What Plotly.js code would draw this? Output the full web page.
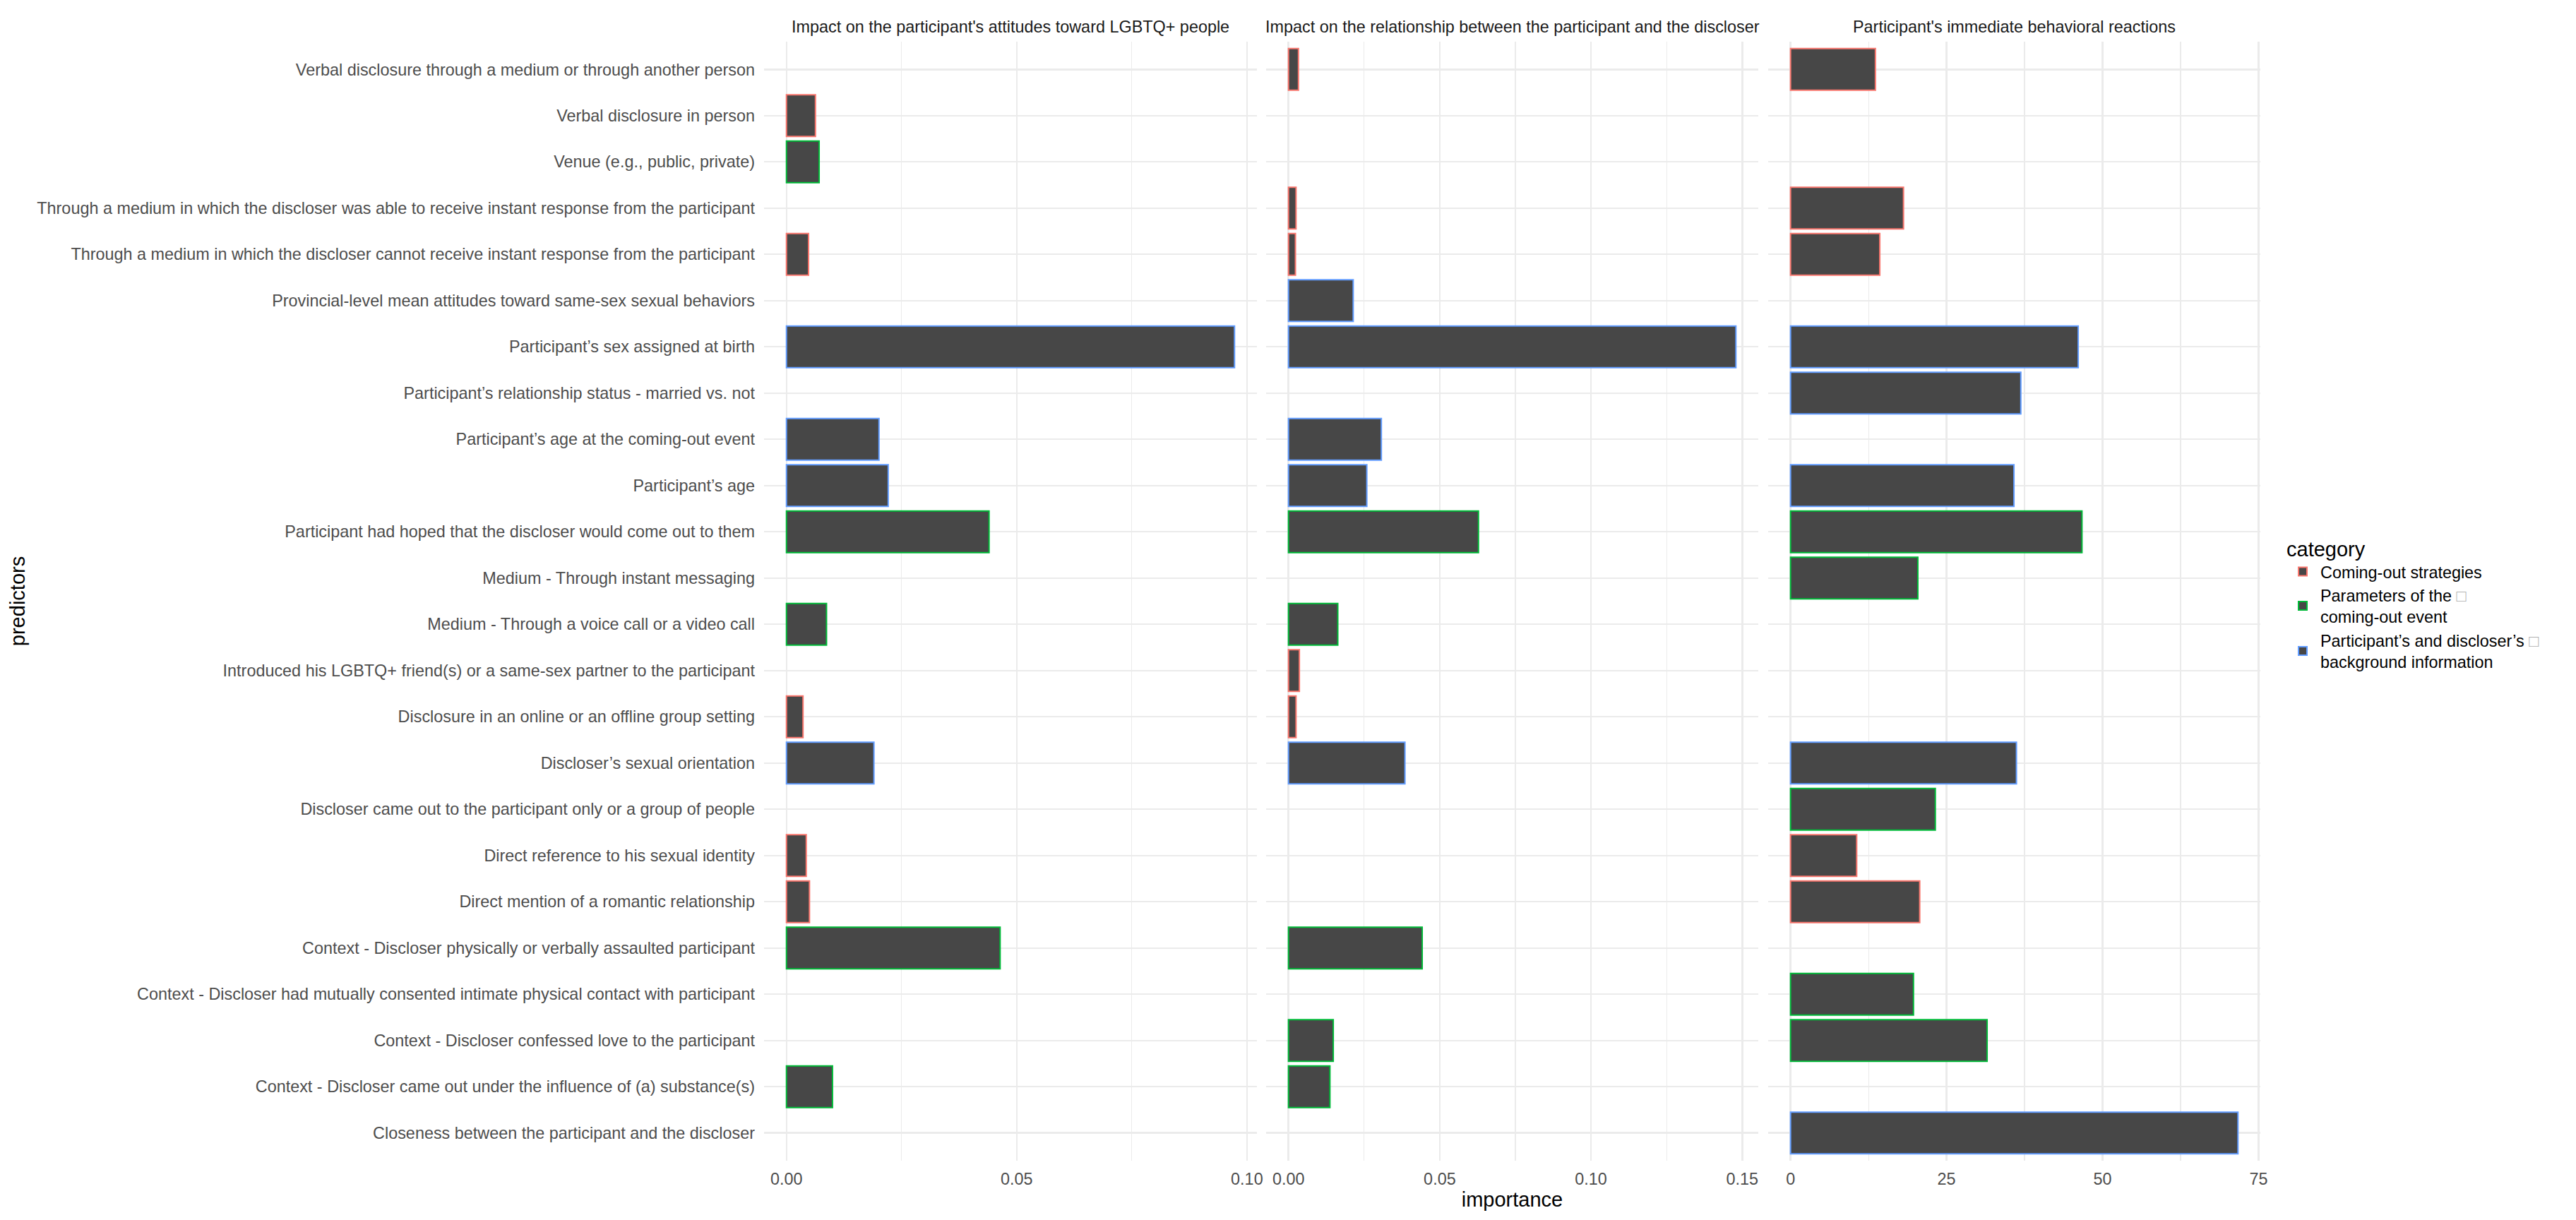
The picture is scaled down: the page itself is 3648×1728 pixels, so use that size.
<!DOCTYPE html>
<html>
<head>
<meta charset="utf-8">
<script src="https://cdn.plot.ly/plotly-3.0.1.min.js"></script>
<style>html,body{margin:0;padding:0;background:#fff;}</style>
</head>
<body>
<div id="chart" style="width:3648px;height:1728px;"></div>
<script>
// ---- data (top to bottom) ----
const predictors = [
  "Verbal disclosure through a medium or through another person",
  "Verbal disclosure in person",
  "Venue (e.g., public, private)",
  "Through a medium in which the discloser was able to receive instant response from the participant",
  "Through a medium in which the discloser cannot receive instant response from the participant",
  "Provincial-level mean attitudes toward same-sex sexual behaviors",
  "Participant’s sex assigned at birth",
  "Participant’s relationship status - married vs. not",
  "Participant’s age at the coming-out event",
  "Participant’s age",
  "Participant had hoped that the discloser would come out to them",
  "Medium - Through instant messaging",
  "Medium - Through a voice call or a video call",
  "Introduced his LGBTQ+ friend(s) or a same-sex partner to the participant",
  "Disclosure in an online or an offline group setting",
  "Discloser’s sexual orientation",
  "Discloser came out to the participant only or a group of people",
  "Direct reference to his sexual identity",
  "Direct mention of a romantic relationship",
  "Context - Discloser physically or verbally assaulted participant",
  "Context - Discloser had mutually consented intimate physical contact with participant",
  "Context - Discloser confessed love to the participant",
  "Context - Discloser came out under the influence of (a) substance(s)",
  "Closeness between the participant and the discloser"
];
// 0 = Coming-out strategies, 1 = Parameters of the coming-out event, 2 = background information
const predictorCategory = [0,0,1,0,0,2,2,2,2,2,1,1,1,0,0,2,1,0,0,1,1,1,1,2];

const attitudesImportance = [null,0.0063,0.0071,null,0.0048,null,0.0973,null,0.0201,0.0221,0.0440,null,0.0087,null,0.0036,0.0190,null,0.0043,0.0050,0.0464,null,null,0.0100,null];
const relationshipImportance = [0.0033,null,null,0.0025,0.0023,0.0214,0.1479,null,0.0307,0.0259,0.0628,null,0.0163,0.0036,0.0025,0.0385,null,null,null,0.0442,null,0.0148,0.0137,null];
const behaviorImportance = [13.6,null,null,18.1,14.3,null,46.1,36.9,null,35.8,46.7,20.4,null,null,null,36.2,23.2,10.6,20.7,null,19.7,31.5,null,71.7];

const panelTitles = [
  "Impact on the participant's attitudes toward LGBTQ+ people",
  "Impact on the relationship between the participant and the discloser",
  "Participant's immediate behavioral reactions"
];
const categoryNames = [
  "Coming-out strategies",
  "Parameters of the <span style=\"color:#b0b0b0\">□</span><br>coming-out event",
  "Participant’s and discloser’s <span style=\"color:#b0b0b0\">□</span><br>background information"
];
const tickFormats = [".2f", ".2f", "d"];
const majorSteps = [0.05, 0.05, 25];

// ---- styles ----
const categoryColors = ["#F8766D", "#00BA38", "#619CFF"];
const barFill = "#474747";
const gridColor = "#EBEBEB";
const fontFamily = '"Liberation Sans", Arial, Helvetica, sans-serif';
const smallFont = 23.4, bigFont = 29;
const W = 3648, H = 1728;
const xDomains = [[1082/W, 1780/W], [1793/W, 2490/W], [2504/W, 3201/W]];
const yDomain = [(H-1644)/H, (H-59)/H];

const panels = [attitudesImportance, relationshipImportance, behaviorImportance];
const axisIds = ["x", "x2", "x3"];
const axisKeys = ["xaxis", "xaxis2", "xaxis3"];

const traces = [];
panels.forEach((vals, p) => {
  categoryNames.forEach((name, c) => {
    const xs = [], ys = [];
    vals.forEach((v, i) => {
      if (v !== null && predictorCategory[i] === c) { xs.push(v); ys.push(predictors[i]); }
    });
    traces.push({
      type: "bar", orientation: "h",
      x: xs, y: ys, xaxis: axisIds[p], yaxis: "y",
      width: 0.9,
      name: name, legendgroup: "cat" + c, showlegend: p === 0,
      marker: { color: barFill, line: { color: categoryColors[c], width: 2 } },
      hoverinfo: "x+y"
    });
  });
});

const layout = {
  width: W, height: H,
  margin: { l: 0, r: 0, t: 0, b: 0 },
  paper_bgcolor: "#ffffff", plot_bgcolor: "#ffffff",
  font: { family: fontFamily, size: smallFont, color: "#4D4D4D" },
  barmode: "overlay",
  showlegend: true,
  legend: {
    x: 3236/W, xanchor: "left", y: 1 - 750/H, yanchor: "top",
    title: { text: "category", font: { size: bigFont, color: "#000000" } },
    font: { size: smallFont, color: "#000000" },
    traceorder: "normal", tracegroupgap: 6, itemwidth: 40,
    bgcolor: "rgba(0,0,0,0)"
  },
  yaxis: {
    domain: yDomain, anchor: "x",
    type: "category", categoryorder: "array", categoryarray: predictors,
    range: [predictors.length - 0.4, -0.6],
    showgrid: true, gridcolor: gridColor, gridwidth: 2.4,
    zeroline: false, showline: false, ticks: "",
    ticklabelstandoff: 12,
    tickfont: { size: smallFont, color: "#4D4D4D" },
    title: { text: "predictors", font: { size: bigFont, color: "#000000" }, standoff: 8 },
    automargin: false
  },
  annotations: []
};

panels.forEach((vals, p) => {
  const maxV = Math.max(...vals.filter(v => v !== null));
  const ax = {
    domain: xDomains[p], anchor: "y",
    range: [-0.05 * maxV, 1.05 * maxV],
    tick0: 0, dtick: majorSteps[p], tickformat: tickFormats[p],
    showgrid: true, gridcolor: gridColor, gridwidth: 2.4,
    minor: { dtick: majorSteps[p] / 2, showgrid: true, gridcolor: gridColor, gridwidth: 1.2 },
    zeroline: false, showline: false, ticks: "",
    ticklabelstandoff: 10,
    tickfont: { size: smallFont, color: "#4D4D4D" },
    automargin: false
  };
  if (p === 1) {
    ax.title = { text: "importance", font: { size: bigFont, color: "#000000" }, standoff: 6 };
  }
  layout[axisKeys[p]] = ax;
  layout.annotations.push({
    text: panelTitles[p], xref: axisIds[p] + " domain", x: 0.5, yref: "paper", y: 1 - 38/H,
    xanchor: "center", yanchor: "middle", showarrow: false,
    font: { size: smallFont, color: "#1A1A1A" }
  });
});

Plotly.newPlot("chart", traces, layout, { staticPlot: true, displayModeBar: false });
</script>
</body>
</html>
